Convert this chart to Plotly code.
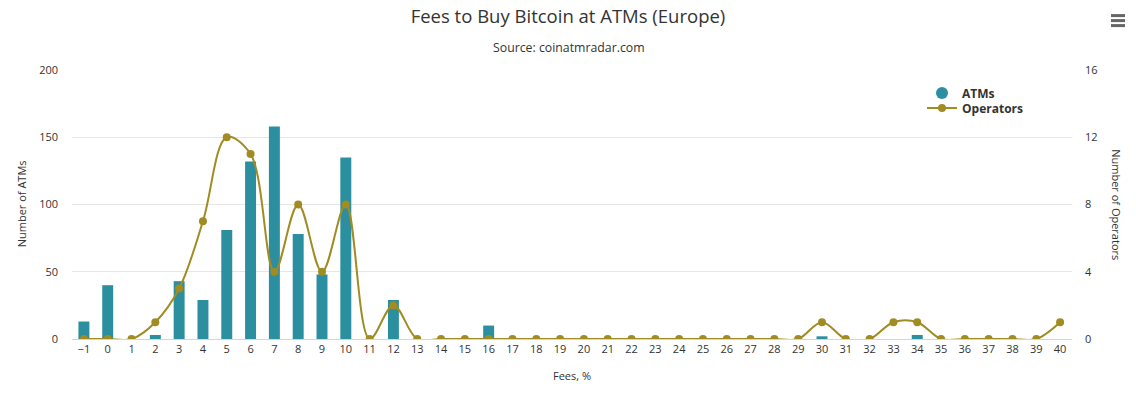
import plotly.graph_objects as go

fees = list(range(-1, 41))
fee_labels = [("\u2212" + str(-f)) if f < 0 else str(f) for f in fees]
atms = [13, 40, 0, 3, 43, 29, 81, 132, 158, 78, 48, 135, 0, 29, 0, 0, 0, 10,
        0, 0, 0, 0, 0, 0, 0, 0, 0, 0, 0, 0, 0, 2, 0, 0, 0, 3, 0, 0, 0, 0, 0, 0]
operators = [0, 0, 0, 1, 3, 7, 12, 11, 4, 8, 4, 8, 0, 2, 0, 0, 0, 0,
             0, 0, 0, 0, 0, 0, 0, 0, 0, 0, 0, 0, 0, 1, 0, 0, 1, 1, 0, 0, 0, 0, 0, 1]
left_ticks = [0, 50, 100, 150, 200]
right_ticks = [0, 4, 8, 12, 16]

BAR = "#2b8f9f"
LINE = "#a08c23"
FONT = "Open Sans"
TXT = "#333333"

W, H = 1136, 396
L, R, T, B = 72, 1072, 69.5, 339
def px(x):
    return (x - L) / (R - L)
def py(y):
    return (B - y) / (B - T)

fig = go.Figure()
fig.add_trace(go.Bar(x=fee_labels, y=atms, name="ATMs", marker_color=BAR,
                     showlegend=False, yaxis="y"))
fig.add_trace(go.Scatter(x=fee_labels, y=operators, name="Operators", yaxis="y2",
                         mode="lines+markers", line=dict(color=LINE, width=2, shape="spline", smoothing=1),
                         marker=dict(color=LINE, size=8), showlegend=False))
# legend entries
fig.add_trace(go.Scatter(x=[fee_labels[0]], y=[None], name="ATMs", mode="markers",
                         marker=dict(color=BAR, size=12, symbol="circle"), legend="legend"))
fig.add_trace(go.Scatter(x=[fee_labels[0]], y=[None], name="Operators", mode="lines+markers",
                         line=dict(color=LINE, width=2), marker=dict(color=LINE, size=8), yaxis="y2",
                         legend="legend2"))

legend_common = dict(xanchor="left", yanchor="top",
                     font=dict(size=12, color=TXT, family=FONT, weight="bold"),
                     bgcolor="rgba(0,0,0,0)", itemwidth=30)

fig.update_layout(
    template="none",
    width=W, height=H,
    margin=dict(l=L, r=W - R, t=T, b=H - B, autoexpand=False),
    paper_bgcolor="white", plot_bgcolor="white",
    font=dict(family=FONT, color=TXT, size=11),
    title=dict(text="Fees to Buy Bitcoin at ATMs (Europe)", x=0.5, xanchor="center",
               y=1 - 17 / H, yref="container", yanchor="middle",
               font=dict(size=18.5, color=TXT, family=FONT)),
    bargap=0.54,
    xaxis=dict(type="category", categoryorder="array", categoryarray=fee_labels,
               range=[-0.5, len(fee_labels) - 0.5], automargin=False,
               tickfont=dict(size=11, color=TXT),
               showline=True, linecolor="#ccd6eb", linewidth=1, showgrid=False, zeroline=False,
               ticks="", title=dict(text="Fees, %", font=dict(size=11, color=TXT), standoff=17)),
    yaxis=dict(range=[0, 200], tickvals=left_ticks, showgrid=True, gridcolor="#e6e6e6", gridwidth=1,
               automargin=False, showline=False,
               zeroline=False, tickfont=dict(size=11, color=TXT), ticks="", ticklabelstandoff=13),
    yaxis2=dict(range=[0, 16], tickvals=right_ticks, overlaying="y", side="right", automargin=False,
                showgrid=False, zeroline=False, showline=False, tickfont=dict(size=11, color=TXT),
                ticks="", ticklabelstandoff=12),
    legend=dict(x=px(922), y=py(78), **legend_common),
    legend2=dict(x=px(922), y=py(93), **legend_common),
    annotations=[
        dict(text="Source: coinatmradar.com", x=px(569), y=py(47), xref="paper", yref="paper",
             showarrow=False, font=dict(size=12.3, color=TXT, family=FONT), xanchor="center", yanchor="middle"),
        dict(text="Number of ATMs", x=px(21), y=py(204), xref="paper", yref="paper",
             showarrow=False, textangle=-90, font=dict(size=11, color=TXT, family=FONT),
             xanchor="center", yanchor="middle"),
        dict(text="Number of Operators", x=px(1117), y=py(204), xref="paper", yref="paper",
             showarrow=False, textangle=90, font=dict(size=11, color=TXT, family=FONT),
             xanchor="center", yanchor="middle"),
    ],
    shapes=[
        dict(type="line", xref="paper", yref="paper", x0=px(1111), x1=px(1125), y0=py(yy), y1=py(yy),
             line=dict(color="#666666", width=3))
        for yy in (15, 20, 25)
    ],
)

fig.write_html("out.html", config={"displayModeBar": False},
               post_script="document.body.style.margin='0';")
